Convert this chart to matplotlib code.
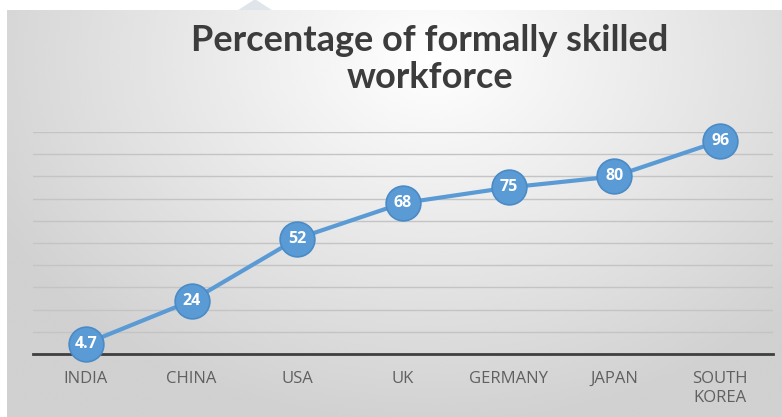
import matplotlib.pyplot as plt
import numpy as np
from matplotlib.patches import Polygon

countries = ["INDIA", "CHINA", "USA", "UK", "GERMANY", "JAPAN", "SOUTH\nKOREA"]
skilled_pct = [4.7, 24, 52, 68, 75, 80, 96]
value_labels = ["4.7", "24", "52", "68", "75", "80", "96"]

W, H = 782, 417
fig = plt.figure(figsize=(W / 100, H / 100), dpi=100)
fig.patch.set_facecolor("white")

# slide-like gradient background panel
bg = fig.add_axes([7 / W, 0, 1 - 7 / W, 407 / H])
gx, gy = np.meshgrid(np.linspace(0, 1, 400), np.linspace(0, 1, 220))
r = np.sqrt(((gx - 0.55) / 0.7) ** 2 + ((gy - 0.12) / 1.0) ** 2)
shade = np.clip(1.0 - 0.2 * r, 0.82, 1.0)
bg.imshow(shade, cmap="gray", vmin=0, vmax=1, aspect="auto",
          extent=[0, 1, 1, 0], interpolation="bicubic")
bg.set_xlim(0, 1)
bg.set_ylim(1, 0)
bg.axis("off")

# small pointer triangle above the panel
tri = fig.add_axes([0, 0, 1, 1], zorder=-1)
tri.set_xlim(0, W)
tri.set_ylim(H, 0)
tri.add_patch(Polygon([[238, 11], [255, 0], [272, 11]], closed=True,
                      color="#dfe5ea"))
tri.axis("off")

ax = fig.add_axes([33 / W, (H - 354) / H, 740 / W, 222 / H])
ax.patch.set_alpha(0)
x = np.arange(len(countries))
ax.set_xlim(-0.5, len(countries) - 0.5)
ax.set_ylim(0, 100)
ax.set_yticks(np.arange(10, 101, 10))
ax.grid(axis="y", color="#c4c4c4", linewidth=1.0)
ax.set_axisbelow(True)
for s in ["top", "right", "left"]:
    ax.spines[s].set_visible(False)
ax.spines["bottom"].set_color("#3f3f3f")
ax.spines["bottom"].set_linewidth(2.0)
ax.tick_params(axis="y", left=False, labelleft=False)
ax.tick_params(axis="x", length=0, pad=12)
ax.set_xticks(x)
ax.set_xticklabels(countries, fontsize=12, color="#606060",
                   family="Open Sans", linespacing=1.3, va="top")

ax.plot(x, skilled_pct, color="#5b9bd5", linewidth=3.0, marker="o",
        markersize=25, markerfacecolor="#5b9bd5",
        markeredgecolor="#4a8ac6", markeredgewidth=1.2, clip_on=False,
        zorder=3)
for xi, yi, lab in zip(x, skilled_pct, value_labels):
    ax.text(xi, yi, lab, ha="center", va="center", color="white",
            fontsize=11.5, fontweight="bold", family="Open Sans", zorder=4)

fig.text(430 / W, 1 - 59 / H, "Percentage of formally skilled\nworkforce",
         ha="center", va="center", fontsize=26, fontweight="bold",
         color="#3c3c3c", family="Lato", linespacing=1.12)

fig.savefig("out.png", dpi=100)
